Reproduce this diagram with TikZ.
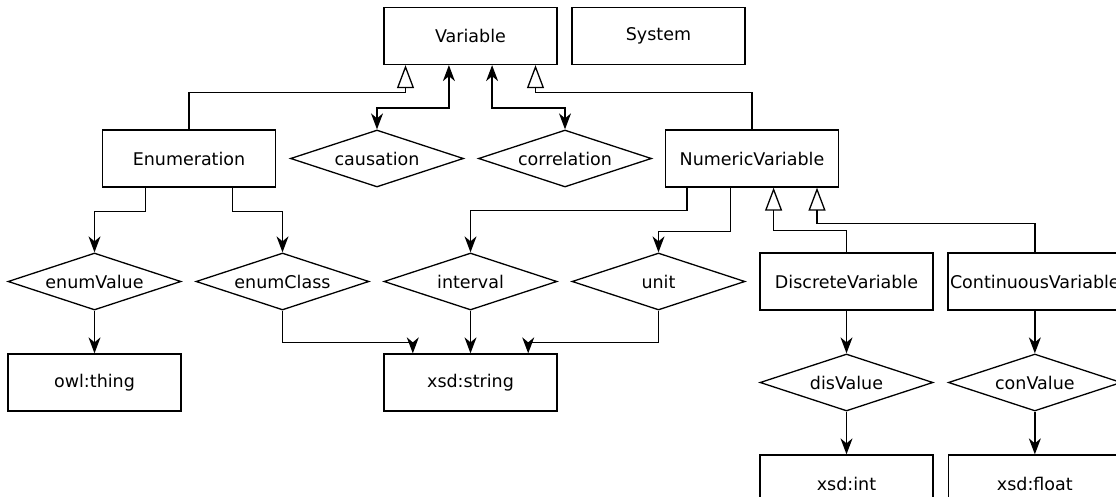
\documentclass[tikz,border=0pt]{standalone}
\usepackage{fontspec}
\setmainfont{DejaVu Sans}
\usepackage{tikz}
\usetikzlibrary{shapes,positioning,calc,arrows.meta}

\begin{document}
\begin{tikzpicture}[x=1pt, y=-1pt, line width=1.3pt,
  class node/.style={rectangle, draw, inner sep=2pt, minimum width=173pt, minimum height=57pt,
    font=\fontsize{17.5}{20}\selectfont},
  prop node/.style={diamond, draw, aspect=3, inner sep=0pt, minimum width=173pt, minimum height=57pt,
    font=\fontsize{17.5}{20}\selectfont},
  rel/.style={-{Stealth[length=16pt, width=12pt, inset=5pt]}},
  both rel/.style={{Stealth[length=16pt, width=12pt, inset=5pt]}-{Stealth[length=16pt, width=12pt, inset=5pt]}},
  inherit/.style={-{Triangle[open, length=23pt, width=17pt, fill=white]}}]

  \path[use as bounding box, clip] (0,0) rectangle (1116,497);

  % top rows
  \node [class node] (var) at (470.5,36) {Variable};
  \node [class node, right=13.7pt of var] (sys) {System};

  \node [class node] (enum) at (189,158.5) {Enumeration};
  \node [prop node, right=13.7pt of enum] (caus) {causation};
  \node [prop node, right=13.7pt of caus] (corr) {correlation};
  \node [class node, right=12.7pt of corr] (numvar) {NumericVariable};

  % properties and subclasses
  \node [prop node] (enumval) at (94.5,281.5) {enumValue};
  \node [prop node, right=13.7pt of enumval] (enumcls) {enumClass};
  \node [prop node, right=13.7pt of enumcls] (interval) {interval};
  \node [prop node, right=13.7pt of interval] (unit) {unit};
  \node [class node, right=13.7pt of unit] (discvar) {DiscreteVariable};
  \node [class node, right=13.7pt of discvar] (contvar) {ContinuousVariable};

  % ranges
  \node [class node, below=42.7pt of enumval] (owl) {owl:thing};
  \node [class node, below=42.7pt of interval] (xstr) {xsd:string};
  \node [prop node, below=42.7pt of discvar] (disval) {disValue};
  \node [prop node, below=42.7pt of contvar] (conval) {conValue};
  \node [class node, below=42.7pt of disval] (xint) {xsd:int};
  \node [class node, below=42.7pt of conval] (xfloat) {xsd:float};

  % subclass links
  \draw [inherit] (enum.north) -- ++(0,-37) -| ([xshift=-65pt]var.south);
  \draw [inherit] (numvar.north) -- ++(0,-37) -| ([xshift=65pt]var.south);
  \draw [inherit] (discvar.north) -- ++(0,-22) -| ([xshift=21.6pt]numvar.south);
  \draw [inherit] (contvar.north) -- ++(0,-29) -| ([xshift=65pt]numvar.south);

  % object properties
  \draw [both rel] ([xshift=-21.6pt]var.south) -- ++(0,43) -| (caus.north);
  \draw [both rel] ([xshift=21.6pt]var.south) -- ++(0,43) -| (corr.north);
  \draw [rel] ([xshift=-43.25pt]enum.south) -- ++(0,24) -| (enumval.north);
  \draw [rel] ([xshift=43.25pt]enum.south) -- ++(0,24) -| (enumcls.north);
  \draw [rel] ([xshift=-65pt]numvar.south) -- ++(0,23) -| (interval.north);
  \draw [rel] ([xshift=-21.6pt]numvar.south) -- ++(0,44) -| (unit.north);
  \draw [rel] (discvar) -- (disval);
  \draw [rel] (contvar) -- (conval);

  % ranges
  \draw [rel] (enumval) -- (owl);
  \draw [rel] (enumcls.south) -- ++(0,32) -| ([xshift=-57.7pt]xstr.north);
  \draw [rel] (interval) -- (xstr);
  \draw [rel] (unit.south) -- ++(0,32) -| ([xshift=57.7pt]xstr.north);
  \draw [rel] (disval) -- (xint);
  \draw [rel] (conval) -- (xfloat);
\end{tikzpicture}
\end{document}
